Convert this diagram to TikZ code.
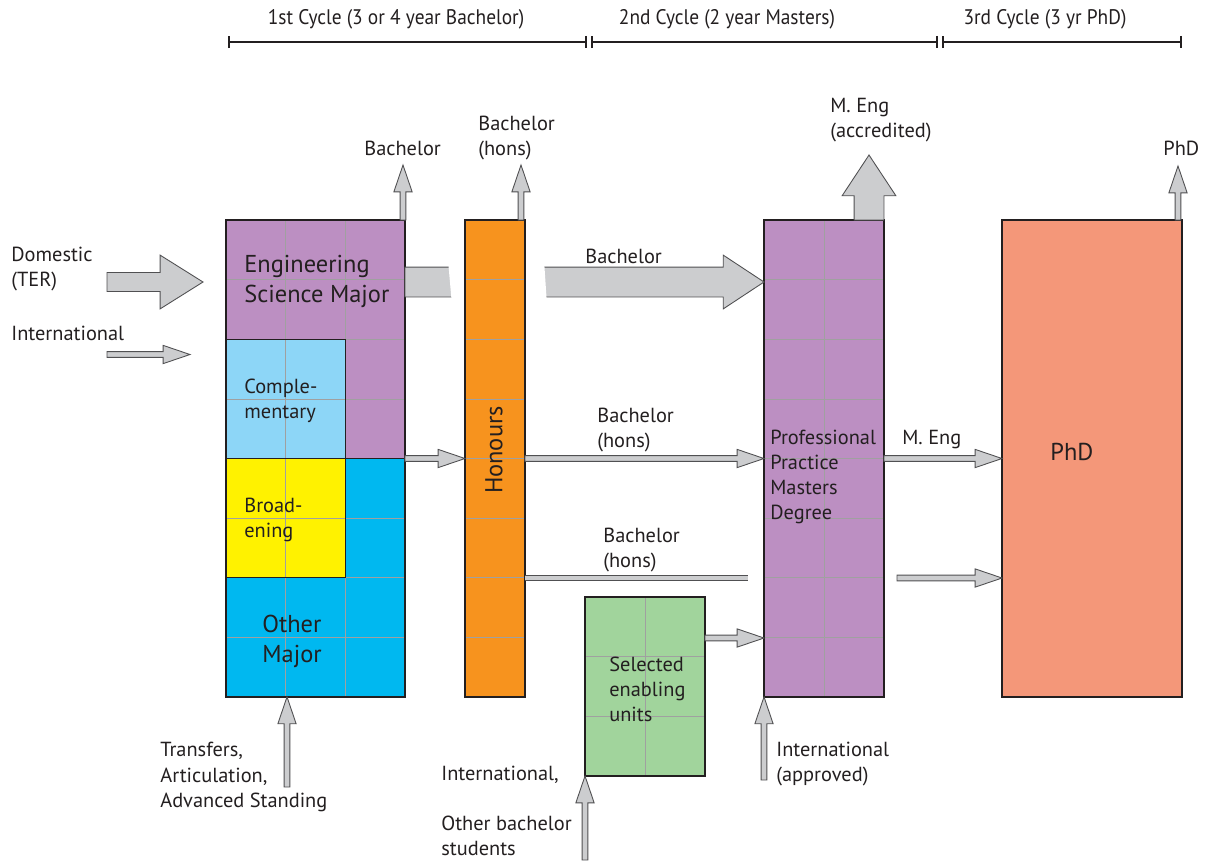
\documentclass[tikz,border=0pt]{standalone}
\usepackage{fontspec}
\setmainfont{PT Sans}
\newfontfamily\narrowfont[FakeStretch=0.92]{PT Sans}
\usetikzlibrary{calc}
\usetikzlibrary{arrows.meta}
\definecolor{esmajor}{RGB}{188,143,194}
\definecolor{complcol}{RGB}{141,214,247}
\definecolor{broadcol}{RGB}{255,242,0}
\definecolor{othercol}{RGB}{0,184,240}
\definecolor{honcol}{RGB}{247,147,30}
\definecolor{phdcol}{RGB}{244,151,121}
\definecolor{selcol}{RGB}{161,212,156}
\definecolor{flowfill}{RGB}{204,205,207}
\definecolor{flowline}{RGB}{80,80,82}
\definecolor{gridcol}{RGB}{160,160,160}
\definecolor{inkcol}{RGB}{35,31,32}
\tikzset{flowshaft/.store in=\flowshaft,
         flowhead/.store in=\flowhead,
         flowtip/.store in=\flowtip,
         flowshaft=1.6pt, flowhead=5.2pt, flowtip=15.3pt}
% block arrow between two points, drawn as one outline
\tikzset{flow/.style = {draw=flowline, fill=flowfill, line width=0.5pt,
  to path={let \p1=(\tikztostart), \p2=(\tikztotarget),
    \n1={veclen(\x2-\x1,\y2-\y1)},
    \n2={(\x2-\x1)/\n1}, \n3={(\y2-\y1)/\n1} in
    ({\x1-(\n3)*\flowshaft},{\y1+(\n2)*\flowshaft})
    -- ({\x2-(\n2)*\flowtip-(\n3)*\flowshaft},{\y2-(\n3)*\flowtip+(\n2)*\flowshaft})
    -- ({\x2-(\n2)*\flowtip-(\n3)*\flowhead},{\y2-(\n3)*\flowtip+(\n2)*\flowhead})
    -- (\p2)
    -- ({\x2-(\n2)*\flowtip+(\n3)*\flowhead},{\y2-(\n3)*\flowtip-(\n2)*\flowhead})
    -- ({\x2-(\n2)*\flowtip+(\n3)*\flowshaft},{\y2-(\n3)*\flowtip-(\n2)*\flowshaft})
    -- ({\x1+(\n3)*\flowshaft},{\y1-(\n2)*\flowshaft}) -- cycle}}}
\tikzset{slimflow/.style = {flow, flowshaft=1.65pt, flowhead=5.2pt, flowtip=15.3pt}}
\tikzset{midflow/.style = {flow, flowshaft=5.4pt, flowhead=15.3pt, flowtip=24.4pt}}
\tikzset{fatflow/.style = {flow, flowshaft=8.5pt, flowhead=15.3pt, flowtip=23.2pt}}
\tikzset{slimbar/.style = {draw=flowline, line width=0.5pt, double=flowfill, double distance=2.3pt}}
\tikzset{stage/.style = {draw=inkcol, line width=0.7pt, inner sep=0, outer sep=0, anchor=north west}}
\tikzset{gridline/.style = {draw=gridcol, line width=0.35pt}}
\tikzset{lbl/.style = {align=left, inner sep=0, text=inkcol, anchor=west,
                       font=\fontsize{11.6}{14.3}\selectfont}}
\tikzset{biglbl/.style = {lbl, font=\fontsize{13.9}{17}\selectfont}}
\tikzset{cyclelbl/.style = {inner sep=0, text=inkcol, font=\narrowfont\fontsize{12}{13}\selectfont}}
\tikzset{timeline/.style = {draw=inkcol, line width=0.9pt, {Bar[width=7pt]}-{Bar[width=7pt]}}}

\begin{document}
\begin{tikzpicture}[x=0.02cm, y=-0.02cm]
  \useasboundingbox (0,0) rectangle (1207,860);
  % cycles
  \coordinate (tl0) at (228,42); \coordinate (tl1) at (587,42);
  \coordinate (tl2) at (591,42); \coordinate (tl3) at (938,42);
  \coordinate (tl4) at (942,42); \coordinate (tl5) at (1182,42);
  \draw[timeline] (tl0) -- (tl1);
  \draw[timeline] (tl2) -- (tl3);
  \draw[timeline] (tl4) -- (tl5);
  \node[cyclelbl] (cyc1) at (396,19) {1st Cycle (3 or 4 year Bachelor)};
  \node[cyclelbl] (cyc2) at (727,19) {2nd Cycle (2 year Masters)};
  \node[cyclelbl] (cyc3) at (1045,19) {3rd Cycle (3 yr PhD)};

  % rows shared by the columns
  \coordinate (r282) at (0,282);
  \coordinate (r460) at (0,458.5);
  \coordinate (r578) at (0,578);
  \coordinate (r638) at (0,638);

  % first cycle block
  \node[stage, fill=othercol, minimum width=3.58cm, minimum height=9.54cm] (first) at (226,220) {};
  \fill[esmajor] (226,220) -- (405,220) -- (405,458.5) -- (345.3,458.5)
                 -- (345.3,339.25) -- (226,339.25) -- cycle;
  \fill[complcol] (226,339.25) rectangle (345.3,458.5);
  \fill[broadcol] (226,458.5) rectangle (345.3,577.75);
  \foreach \r in {1,...,7}
    \draw[gridline] ($(first.north west)!\r/8!(first.south west)$) -- ($(first.north east)!\r/8!(first.south east)$);
  \foreach \c in {1,2}
    \draw[gridline] ($(first.north west)!\c/3!(first.north east)$) -- ($(first.south west)!\c/3!(first.south east)$);
  \draw[draw=inkcol, line width=0.5pt] (226,339.25) -- (345.3,339.25) -- (345.3,577.75) -- (226,577.75);
  \draw[draw=inkcol, line width=0.5pt] (226,458.5) -- (405,458.5);
  \draw[draw=inkcol, line width=0.7pt] (first.north west) rectangle (first.south east);

  % masters, phd, enabling units
  \node[stage, fill=esmajor, minimum width=2.4cm, minimum height=9.54cm] (mst) at (764,220) {};
  \foreach \r in {1,...,7}
    \draw[gridline] ($(mst.north west)!\r/8!(mst.south west)$) -- ($(mst.north east)!\r/8!(mst.south east)$);
  \draw[gridline] (mst.north) -- (mst.south);
  \draw[draw=inkcol, line width=0.7pt] (mst.north west) rectangle (mst.south east);
  \node[stage, fill=phdcol, minimum width=3.6cm, minimum height=9.54cm] (phd) at (1002,220) {};
  \node[stage, fill=selcol, minimum width=2.4cm, minimum height=3.58cm] (sel) at (585,597) {};
  \foreach \r in {1,2}
    \draw[gridline] ($(sel.north west)!\r/3!(sel.south west)$) -- ($(sel.north east)!\r/3!(sel.south east)$);
  \draw[gridline] (sel.north) -- (sel.south);
  \draw[draw=inkcol, line width=0.7pt] (sel.north west) rectangle (sel.south east);

  % bachelor flow passes behind honours
  \draw[fatflow] (first.east |- r282) to (mst.west |- r282);
  \fill[white] (448,260) -- (544,260) -- (547,305) -- (452,305) -- cycle;

  % honours
  \node[stage, fill=honcol, minimum width=1.2cm, minimum height=9.54cm] (hon) at (465,220) {};
  \foreach \r in {1,...,7}
    \draw[gridline] ($(hon.north west)!\r/8!(hon.south west)$) -- ($(hon.north east)!\r/8!(hon.south east)$);
  \draw[draw=inkcol, line width=0.7pt] (hon.north west) rectangle (hon.south east);

  % entry arrows
  \coordinate (domA) at (107,282); \coordinate (domB) at (203,282);
  \coordinate (intA) at (107,354.5); \coordinate (intB) at (190,354.5);
  \draw[midflow] (domA) to (domB);
  \draw[slimflow] (intA) to (intB);
  \coordinate (trbot) at (287,787);
  \draw[slimflow] (trbot) to (first.south -| trbot);
  \coordinate (intbot) at (585,860);
  \draw[slimflow] (intbot) to (sel.south west);
  \coordinate (appbot) at (764,780);
  \draw[slimflow] (appbot) to (mst.south west);

  % exits
  \coordinate (bachtop) at (403,165);
  \coordinate (honstop) at (521,165);
  \coordinate (mengtop) at (869,155);
  \coordinate (phdtop) at (1178,166);
  \draw[slimflow] (first.north -| bachtop) to (bachtop);
  \draw[slimflow] (hon.north -| honstop) to (honstop);
  \draw[fatflow] (mst.north -| mengtop) to (mengtop);
  \draw[slimflow] (phd.north -| phdtop) to (phdtop);

  % flows between stages
  \draw[slimflow] (first.east |- r460) to (hon.west |- r460);
  \draw[slimflow] (hon.east |- r460) to (mst.west |- r460);
  \draw[slimflow] (mst.east |- r460) to (phd.west |- r460);
  \draw[slimflow] (sel.east |- r638) to (mst.west |- r638);
  \coordinate (barend) at (748,578);
  \coordinate (barresume) at (897,578);
  \draw[slimbar] (hon.east |- r578) -- (barend);
  \draw[slimflow] (barresume) to (phd.west |- r578);

  % texts
  \node[biglbl] (estxt) at (244,281) {Engineering\\Science Major};
  \node[lbl] (comptxt) at (244,401) {Comple-\\mentary};
  \node[lbl] (broadtxt) at (244,520) {Broad-\\ening};
  \node[biglbl] (othtxt) at (262,641) {Other\\Major};
  \node[biglbl, anchor=center, rotate=90] (hontxt) at (494,450) {Honours};
  \node[lbl] (msttxt) at (770,477) {Professional\\Practice\\Masters\\Degree};
  \node[biglbl] (phdtxt) at (1050,452) {PhD};
  \node[lbl] (seltxt) at (609,689) {Selected\\enabling\\units};

  \node[lbl] (domlbl) at (11,269) {Domestic\\(TER)};
  \node[lbl] (intllbl) at (11,333) {International};
  \node[lbl] (bachlbl) at (364,148) {Bachelor};
  \node[lbl] (honslbl) at (478,138) {Bachelor\\(hons)};
  \node[lbl] (menglbl) at (830,120) {M. Eng\\(accredited)};
  \node[lbl] (phdlbl) at (1163,148) {PhD};
  \node[lbl] (bachmid) at (585,256) {Bachelor};
  \node[lbl] (honsmid) at (597,430) {Bachelor\\(hons)};
  \node[lbl] (menglow) at (902,440) {M. Eng};
  \node[lbl] (honslow) at (603,550) {Bachelor\\(hons)};
  \node[lbl] (trlbl) at (160,777) {Transfers,\\Articulation,\\Advanced Standing};
  \node[lbl] (intl2) at (441,775) {International,};
  \node[lbl] (othlbl) at (441,836) {Other bachelor\\students};
  \node[lbl] (applbl) at (776,764) {International\\(approved)};
\end{tikzpicture}
\end{document}
